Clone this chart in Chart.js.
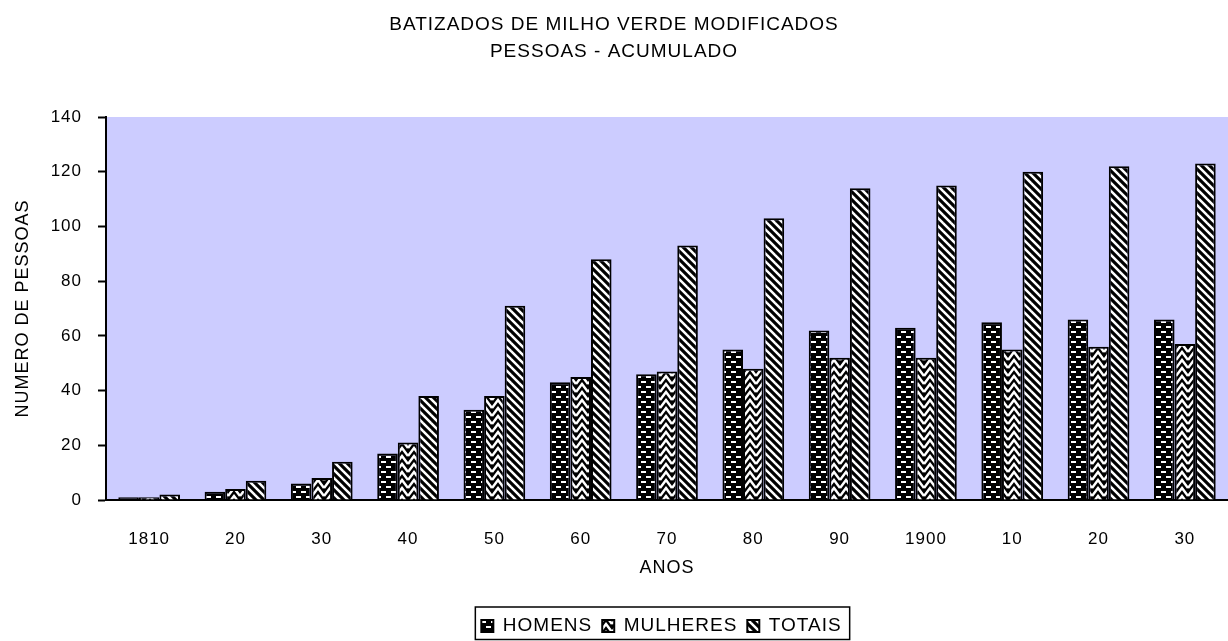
<!DOCTYPE html>
<html>
<head>
<meta charset="utf-8">
<script src="https://cdn.jsdelivr.net/npm/chart.js@4.4.0/dist/chart.umd.min.js"></script>
<style>
    html, body { margin: 0; padding: 0; background: #fff; overflow: hidden; }
</style>
</head>
<body>
<canvas id="batizadosChart" width="1228" height="641"></canvas>
<script>
// Dados do gráfico
const anos = ['1810', '20', '30', '40', '50', '60', '70', '80', '90', '1900', '10', '20', '30'];
const homens = [1, 3, 6, 17, 33, 43, 46, 55, 62, 63, 65, 66, 66];
const mulheres = [1, 4, 8, 21, 38, 45, 47, 48, 52, 52, 55, 56, 57];
const totais = [2, 7, 14, 38, 71, 88, 93, 103, 114, 115, 120, 122, 123];
const tituloLinhas = ['BATIZADOS DE MILHO VERDE MODIFICADOS', 'PESSOAS - ACUMULADO'];

const FONTE = "'Liberation Sans', Arial, sans-serif";

// Cria um padrão (tramas em preto e branco)
function criarPadrao(w, h, desenhar) {
    const c = document.createElement('canvas');
    c.width = w;
    c.height = h;
    const g = c.getContext('2d');
    g.fillStyle = '#000';
    g.fillRect(0, 0, w, h);
    g.fillStyle = '#fff';
    g.strokeStyle = '#fff';
    desenhar(g, w, h);
    return g.createPattern(c, 'repeat');
}

// Homens: tracinhos horizontais
const padraoHomens = criarPadrao(10, 10, function(g) {
    g.fillRect(1, 1, 5, 2);
    g.fillRect(6, 6, 4, 2);
    g.fillRect(0, 6, 1, 2);
});

// Mulheres: zigue-zague
const padraoMulheres = criarPadrao(12, 8, function(g, w, h) {
    g.lineWidth = 2.5;
    for (let k = -1; k <= 1; k++) {
        const y0 = k * h;
        g.beginPath();
        g.moveTo(0, y0 + h);
        g.lineTo(6, y0);
        g.lineTo(12, y0 + h);
        g.stroke();
    }
});

// Totais: listras diagonais
const padraoTotais = criarPadrao(8, 8, function(g, w, h) {
    g.lineWidth = 2.5;
    for (let k = -1; k <= 1; k++) {
        g.beginPath();
        g.moveTo(k * w - 1, -1);
        g.lineTo(k * w + w + 1, h + 1);
        g.stroke();
    }
});

// Plugin: espaçamento entre letras, fundo da área do gráfico e posição da legenda
const fundoPlugin = {
    id: 'fundo',
    beforeUpdate(chart) {
        chart.ctx.letterSpacing = '1px';
    },
    afterLayout(chart) {
        // legenda centrada sob a área do gráfico
        chart.legend.left = chart.chartArea.left - 11;
    },
    beforeDraw(chart) {
        const ctx = chart.ctx;
        ctx.letterSpacing = '1px';
        const a = chart.chartArea;
        ctx.save();
        ctx.fillStyle = '#ccccff';
        ctx.fillRect(a.left, a.top, a.right - a.left, a.bottom - a.top);
        ctx.restore();
    }
};

// Plugin: moldura da legenda
const molduraLegenda = {
    id: 'molduraLegenda',
    afterDraw(chart) {
        const boxes = chart.legend.legendHitBoxes;
        if (!boxes || !boxes.length) return;
        let esq = Infinity, dir = -Infinity;
        boxes.forEach(b => {
            esq = Math.min(esq, b.left);
            dir = Math.max(dir, b.left + b.width);
        });
        const topo = boxes[0].top;
        const ctx = chart.ctx;
        ctx.save();
        ctx.strokeStyle = '#000';
        ctx.lineWidth = 1.5;
        ctx.strokeRect(esq - 6, topo - 9.5, dir - esq + 14, Math.min(chart.height - 1.5 - (topo - 9.5), 40));
        ctx.restore();
    }
};

const ctx = document.getElementById('batizadosChart').getContext('2d');
new Chart(ctx, {
    type: 'bar',
    data: {
        labels: anos,
        datasets: [
            { label: 'HOMENS', data: homens, backgroundColor: padraoHomens },
            { label: 'MULHERES', data: mulheres, backgroundColor: padraoMulheres },
            { label: 'TOTAIS', data: totais, backgroundColor: padraoTotais }
        ]
    },
    options: {
        responsive: false,
        animation: false,
        datasets: {
            bar: {
                borderColor: '#000',
                borderWidth: 2,
                categoryPercentage: 0.715,
                barPercentage: 1.0
            }
        },
        layout: { padding: { left: 0, right: 0, top: 0, bottom: -4.5 } },
        plugins: {
            title: {
                display: true,
                text: tituloLinhas,
                color: '#000',
                font: { family: FONTE, size: 19, weight: 'normal', lineHeight: 27 / 19 },
                padding: { top: 11.5, bottom: 51.5 }
            },
            legend: {
                position: 'bottom',
                labels: {
                    color: '#000',
                    font: { family: FONTE, size: 19 },
                    boxWidth: 12,
                    boxHeight: 12,
                    padding: 10
                }
            },
            tooltip: { enabled: false }
        },
        scales: {
            x: {
                afterFit: function(scale) { scale.height = 106.5; },
                grid: { display: true, drawOnChartArea: false, drawTicks: false },
                border: { display: true, color: '#000', width: 2 },
                ticks: {
                    color: '#000',
                    font: { family: FONTE, size: 17 },
                    padding: 29,
                    maxRotation: 0,
                    autoSkip: false
                },
                title: {
                    display: true,
                    text: 'ANOS',
                    color: '#000',
                    font: { family: FONTE, size: 18 },
                    padding: { top: 0, bottom: 27.7 }
                }
            },
            y: {
                min: 0,
                max: 140,
                afterFit: function(scale) { scale.width = 106; },
                grid: { drawOnChartArea: false, drawTicks: true, tickLength: 8, tickWidth: 2, tickColor: '#000' },
                border: { display: true, color: '#000', width: 2 },
                ticks: {
                    stepSize: 20,
                    color: '#000',
                    font: { family: FONTE, size: 17 },
                    padding: 16
                },
                title: {
                    display: true,
                    text: 'NUMERO DE PESSOAS',
                    color: '#000',
                    font: { family: FONTE, size: 18 },
                    padding: { top: 12, bottom: 0 }
                }
            }
        }
    },
    plugins: [fundoPlugin, molduraLegenda]
});
</script>
</body>
</html>
